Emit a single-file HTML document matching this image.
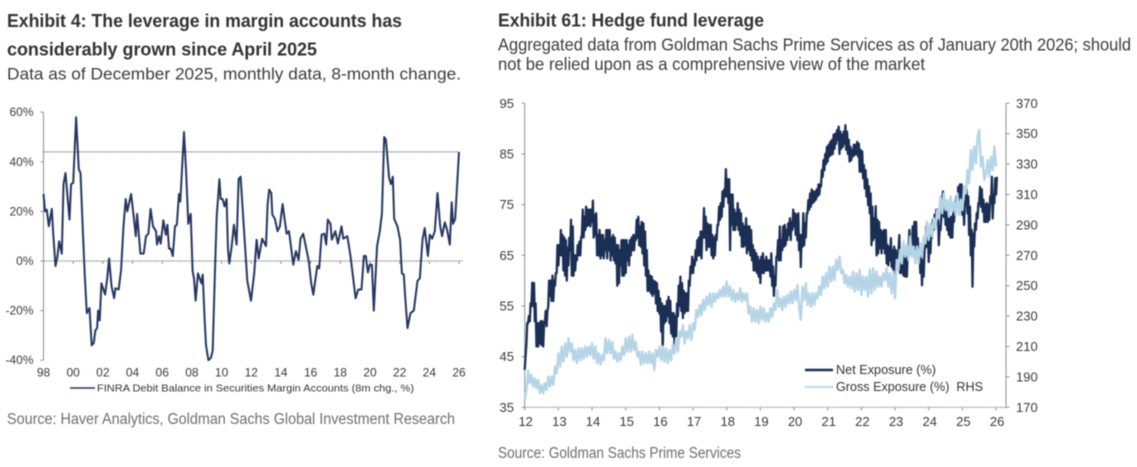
<!DOCTYPE html>
<html lang="en">
<head>
<meta charset="utf-8">
<title>Margin leverage and hedge fund leverage</title>
<style>
html,body{margin:0;padding:0;background:#fff;width:1137px;height:467px;overflow:hidden}
svg{display:block;filter:blur(0.4px)}
text{font-family:"Liberation Sans",Arial,sans-serif}
</style>
</head>
<body>
<svg id="c" xmlns="http://www.w3.org/2000/svg" width="1137" height="467" viewBox="0 0 1137 467">
  <text x="7" y="27" font-size="18" font-weight="700" fill="#333" textLength="395" lengthAdjust="spacingAndGlyphs">Exhibit 4: The leverage in margin accounts has</text>
  <text x="7" y="55.5" font-size="18" font-weight="700" fill="#333" textLength="310" lengthAdjust="spacingAndGlyphs">considerably grown since April 2025</text>
  <text x="7" y="79.5" font-size="17" fill="#3c3c3c" textLength="454" lengthAdjust="spacingAndGlyphs">Data as of December 2025, monthly data, 8-month change.</text>
  <text x="7" y="424" font-size="15.5" fill="#6e6e6e" textLength="448" lengthAdjust="spacingAndGlyphs">Source: Haver Analytics, Goldman Sachs Global Investment Research</text>
  <text x="498" y="26.7" font-size="18" font-weight="700" fill="#333" textLength="266" lengthAdjust="spacingAndGlyphs">Exhibit 61: Hedge fund leverage</text>
  <text x="498" y="50.7" font-size="17.5" fill="#3c3c3c" textLength="633" lengthAdjust="spacingAndGlyphs">Aggregated data from Goldman Sachs Prime Services as of January 20th 2026; should</text>
  <text x="498" y="70" font-size="17.5" fill="#3c3c3c" textLength="427" lengthAdjust="spacingAndGlyphs">not be relied upon as a comprehensive view of the market</text>
  <text x="498" y="458" font-size="15.5" fill="#6e6e6e" textLength="243" lengthAdjust="spacingAndGlyphs">Source: Goldman Sachs Prime Services</text>

  <g id="left-chart"></g>
  <g id="right-chart"></g>

  <line x1="70" y1="388" x2="95" y2="388" stroke="#26375f" stroke-width="1.6"/>
  <text x="97" y="391.7" font-size="10.5" fill="#333" textLength="317" lengthAdjust="spacingAndGlyphs">FINRA Debit Balance in Securities Margin Accounts (8m chg., %)</text>
  <line x1="805" y1="370" x2="833" y2="370" stroke="#1b2f55" stroke-width="2.4"/>
  <text x="836" y="374" font-size="12.5" fill="#333" textLength="100" lengthAdjust="spacingAndGlyphs">Net Exposure (%)</text>
  <line x1="805" y1="387" x2="833" y2="387" stroke="#b5d5e6" stroke-width="2.4" stroke-dasharray="2 0.6"/>
  <text x="836" y="391" font-size="12.5" fill="#333" textLength="147" lengthAdjust="spacingAndGlyphs">Gross Exposure (%)&#160;&#160;RHS</text>
</svg>
<script>
/* ---------- left chart data ---------- */
const marginYears = [
1998.00,1998.11,1998.22,1998.36,1998.56,1998.67,1998.81,1998.94,1999.05,1999.23,1999.35,1999.48,1999.62,1999.75,1999.86,
2000.00,2000.20,2000.38,2000.49,2000.65,2000.78,2000.92,2001.10,2001.25,2001.39,2001.50,2001.61,2001.68,2001.79,2001.90,
2002.15,2002.29,2002.42,2002.58,2002.76,2002.85,2003.07,2003.23,2003.39,2003.54,2003.65,2003.90,2004.06,2004.22,2004.31,2004.53,2004.75,2004.91,
2005.07,2005.22,2005.38,2005.58,2005.65,2005.79,2005.90,2006.08,2006.24,2006.35,2006.46,2006.57,2006.71,2006.86,2006.98,
2007.13,2007.22,2007.47,2007.60,2007.76,2007.92,2008.05,2008.14,2008.25,2008.41,2008.64,2008.73,2008.86,2008.95,
2009.11,2009.29,2009.40,2009.56,2009.67,2009.85,2009.94,2010.07,2010.20,2010.34,2010.43,2010.52,2010.68,2010.83,
2011.01,2011.15,2011.28,2011.51,2011.73,2011.98,2012.20,2012.36,2012.50,2012.74,2012.99,2013.10,2013.21,2013.35,2013.42,2013.59,2013.77,2013.93,
2014.11,2014.38,2014.54,2014.83,2015.01,2015.19,2015.32,2015.50,2015.88,2016.04,2016.18,2016.45,2016.58,2016.74,2016.92,
2017.05,2017.16,2017.34,2017.43,2017.66,2017.84,2018.08,2018.20,2018.47,2018.69,2018.87,2019.03,2019.21,2019.43,2019.59,2019.72,2019.86,2019.99,
2020.13,2020.26,2020.48,2020.66,2020.80,2020.96,2021.07,2021.29,2021.41,2021.54,2021.63,2021.85,2022.03,2022.15,2022.28,2022.39,2022.53,2022.73,2022.95,
2023.20,2023.36,2023.54,2023.69,2023.90,2024.03,2024.19,2024.37,2024.55,2024.73,2024.86,2025.04,2025.20,2025.38,2025.51,2025.60,2025.74,2026.00];
const marginValues = [
27,20,20.7,14,21,10,-2,1.6,8,3,31,35.5,26,16.7,31,
31.5,58,37,35.5,12.6,-6,-21,-19,-34,-33,-28,-27,-20,-24,-9,
-13.5,-7,1,-10,-15,-11,-11.5,-3.5,14,25,20,27,19,10,19,3,3,10,
11,21,14,12,6.6,10,7,16.4,10.6,14.6,5,5,2,14,14.6,
27,24,52,37,15,19,-4,-7,-16,-5,-9,-5.5,-24,-34,
-40,-39,-36,-2,18,33,25,25,22,25,4.6,-1,6,14.6,
6.6,33,34,12.6,-8,-16,-5,8.6,1,9,6,22.7,28.8,27.4,18.7,17,12,14,
23,11,12,-1.5,4,0.5,9,11,0,-9,-13.6,-2,-3,10.6,11,
6.6,16.7,15,8.6,12,7,14,9,10,2,-7,-15,-11.5,-11.5,2,2,-4.6,-1.5,
-1.5,-20,6,12,19,50,49,33.5,31,34,17,14,8.6,-5,-5.5,-15.6,-27,-21,-20,
-8,-7,8.6,13.3,2,10.6,9,12,27.4,14,10,15.6,12.6,6.6,23.7,15,17,44];
const marginRefLevel = 44;
const leftYTicks = [60,40,20,0,-20,-40];
const leftXTicks = [1998,2000,2002,2004,2006,2008,2010,2012,2014,2016,2018,2020,2022,2024,2026];

/* ---------- right chart data (20 samples per year, one row per year) ---------- */
const exposureStartYear = 2012;
const samplesPerYear = 20;
const netHigh = [
45,51.6,53,55.5,59.6,59.5,55.5,51.6,51.6,52,52,51.6,54,54,60,60,61,60,61.5,67,
67,70,69,68.5,68,66.5,68.5,72,70.7,65,65,67,67.7,68.5,74,72.6,74.6,74,74,74,
75.8,73,73.3,69,70,69,69,68,70,70,70,68.5,69,68.5,67,67,66,68,68,68,
68,67,68,68.5,69,69,72,72.6,70.7,71.6,71.3,69.7,66,62,61,60.8,60,59.8,59.5,58,
56.5,55.5,55,55,56,56.8,56,53.6,53.6,53,55.5,59,60.8,59.5,58,57.5,57.5,60,62.8,64.7,
64,66,68,68.5,69.7,69.7,74.3,72.6,71.3,71,71,69,68.5,69,71,74.6,75.3,77.6,78,82,
80,80,77,77,74,73.3,75.3,74,73.3,71.3,70.7,72.3,70.7,70.7,70,67,66,65.4,64.7,64,
64.7,65.4,64,64.7,64,64,65.4,62.8,60.8,64.7,68,70.7,68,70.7,71,70,71.3,72.3,71.6,74,
73.3,73,73.3,69,69,73.3,71.3,73.3,75.9,77.2,78,77.6,77.6,78,79,79,81.8,83.8,85,86.4,
86.8,87.4,87.8,88.8,89,89.7,90.4,89.4,88.8,89.4,90.7,89.4,87.8,86.4,85.8,86.8,86.8,87.4,87,85.8,
85.5,82.8,81.8,80,78.6,77.2,74.6,72.3,74.7,72,71.6,70,69.7,70,70,67,66.7,68.4,66,66.7,
66,65.4,69,64,65.4,65.4,65.4,66,70,68.4,70.7,71.6,71.6,68.4,66.7,65.4,64,66,70.7,70,
68,70,72,73,74,74,70.7,72.6,77.6,75.3,74.3,73.3,72.6,72.6,73.3,74.3,76.6,78.5,79,79,
75.3,75.3,78,76.6,74.6,70,69.3,71.3,73.3,75.3,78.5,78,76,75,75.3,75,76.6,80.5,77,80.2,
80.5];
const netLow = [
42.4,47.6,51.6,52,55,55,52,47,47,47.6,47.3,47,51.6,51,55,57,56,56,59,61.5,
63,65,65,62,61,60,63,66,61,61,62,64,65,65,69,68.5,70,70.7,71,70.7,
71.6,68.5,69,65,65,64.4,65,64.4,66,64.4,66,64,65,64,63.4,59,59.5,63,61,61,
61.5,64,63,65,66,66,68,68.5,67,66.7,65.4,63,61,58,58,57.5,57,57.5,55.5,54,
53.5,50,46.3,51.6,52,53,51.6,49.6,49,47,49,53,55,54,52.6,53.6,54,54,59,61.5,
61.5,63,64,65,65,64.4,68.5,68.5,66,66.7,66.7,65,64.4,65,68,71,72,72.6,74.6,76.6,
76.6,75.3,66,71,70,70,71,70,69,66.7,66.7,67,65.4,66,65,64,62,62,61.5,60.8,
59.5,61.5,61.5,62,62,62,60.8,59,57,59,64.7,64,64,66,66.7,67,68,69,68,70,
70.7,69,68,66,62.7,66.7,67,68.5,73.3,74,74.6,75.3,75.6,76,76.6,77,78.6,80.5,81.8,83,
83.5,84.5,84.8,85,86,87,87.8,85,86,86.4,87,85.8,85,83.5,83.8,84.5,84.8,85,84.5,81.5,
81.5,80.2,78.2,76.6,74.9,73.3,67,68,68.5,65,65.4,66.4,65.4,66.4,65.4,63.4,63,64,62.7,61.8,
61.5,63.4,65.4,61.5,61.5,61,60.8,60.8,65.4,65.4,66.7,66.7,66,64.7,64,61.5,59.1,60.8,66.7,66.7,
63.7,65.4,68.5,70,70.7,71.3,67,70,75.3,72.6,71,70,69,68.5,68.5,71.6,74.3,75,75.3,76.6,
73,71,76,73.3,69,65,58.8,66.7,70,72.3,75.3,74.6,73.6,71.6,71.6,71.6,72,75.3,72.3,75.3,
77];
const grossValues = [
175,181.4,194,185.8,191.3,183.6,189,182.5,188,179.2,184.7,179.2,185.8,181.4,190.2,183.6,190.2,184.7,196.8,192.4,
205.5,196.8,209.9,200,212,203.3,215.4,206.6,212,201,207.7,199,208.8,201,208.8,202,210,203.3,210,204.4,
212,202,210,199,205.5,198,204.4,201,215.4,205.5,214.3,205.5,213,202,206.6,200,205.5,201,210,204.4,
215.4,206.6,216.5,206.6,217.6,207.7,213,203.3,206.6,198,206.6,199,205.5,199,206.6,199,205.5,194.6,207.7,203.3,
210,201,210,200,208.8,199,207.7,201,211,205.5,215.4,206.6,219.8,216.5,224,212,219.8,215.4,224,214.3,
225.3,220.9,234,229.6,237.3,230.7,240.6,234,242.8,237.3,245,236.2,245,239.5,245,241.7,247.2,242.8,249.4,242.8,
252.7,242.8,249.4,240.6,247.2,239.5,245,240.6,248.3,239.5,245,240.6,245,231.8,236.2,226.4,235.1,226.4,234,225.3,
236.2,227.5,235.1,226.4,231.8,226.4,235.1,229.6,238.4,234,247.2,236.2,241.7,234,242.8,236.2,243.9,238.4,246.1,238.4,
247.2,240.6,250.5,236.2,227.5,249.4,240.6,251.6,237.3,245,236.2,245,237.3,245,241.7,249.4,243.9,256,248.3,258.2,
249.4,262.5,252.7,262.5,253.8,266.9,260.4,269.1,258.2,260.4,251.6,257.1,249.4,256,248.3,259.3,246.1,258.2,247.2,260.4,
243.9,256,247.2,256,242.8,260.4,245,261.4,247.2,259.3,249.4,256,249.4,258.2,253.8,261.4,249.4,258.2,245,259.3,
241.7,266.9,260.4,273.5,264.7,279,269.1,276.8,266.9,282.3,269.1,275.7,264.7,275.7,264.7,277.9,269.1,282.3,277.9,292.1,
280.1,291,282.3,294.3,287.8,299.8,294.3,308.6,297.6,310.8,299.8,306.4,295.4,308.6,298.7,305.3,296.5,310.8,296.5,306.4,
299.8,315.2,310.8,326.1,317.4,339.3,326.1,341.5,330.5,348,352.5,328.3,334.9,319.6,323.9,332.7,321.8,334.9,326.1,341.5,
328.3];
const lhsTicks = [95,85,75,65,55,45,35];
const rhsTicks = [370,350,330,310,290,270,250,230,210,190,170];
const rightXTicks = [2012,2013,2014,2015,2016,2017,2018,2019,2020,2021,2022,2023,2024,2025,2026];

/* ---------- axis functions ---------- */
const NS = 'http://www.w3.org/2000/svg';
const xLeft  = y => 43.5 + (y - 1998) * 14.84;
const yLeft  = v => 261 - v * 2.48;
const xRight = y => 524.7 + (y - 2012) * 33.67;
const yLhs   = v => 103.3 + (95 - v) * 5.067;
const yRhs   = v => 103.3 + (370 - v) * 1.52;
const twoDigit = y => String(y % 100).padStart(2, '0');

const leftG = document.getElementById('left-chart');
const rightG = document.getElementById('right-chart');

function shape(parent, tag, props) {
  const el = document.createElementNS(NS, tag);
  for (const k in props) el.setAttribute(k, props[k]);
  parent.appendChild(el);
  return el;
}
function label(parent, x, y, txt, size, anchor) {
  const el = shape(parent, 'text', {x: x, y: y, 'font-size': size, 'text-anchor': anchor, fill: '#3a3a3a'});
  el.textContent = txt;
  return el;
}
const axisStyle = {stroke: '#8f8f8f', 'stroke-width': 1};

/* ---------- left chart ---------- */
let el = shape(leftG, 'line', Object.assign({x1: xLeft(1998), x2: xLeft(1998), y1: yLeft(60), y2: yLeft(-40)}, axisStyle));


el = shape(leftG, 'line', {x1: xLeft(1998), x2: 463, y1: yLeft(0), y2: yLeft(0), stroke: '#8a8a8a', 'stroke-width': 1.2, 'stroke-dasharray': '1.5 1'});


el = shape(leftG, 'line', {x1: xLeft(1998), x2: xLeft(2026), y1: yLeft(marginRefLevel), y2: yLeft(marginRefLevel), stroke: '#56678c', 'stroke-width': 1, 'stroke-dasharray': '1.5 1'});



leftYTicks.forEach(v => {
  const t = shape(leftG, 'line', Object.assign({x1: xLeft(1998) - 3, x2: xLeft(1998), y1: yLeft(v), y2: yLeft(v)}, axisStyle));
  
  
  const l = label(leftG, 33.5, yLeft(v) + 4, v + '%', 12, 'end');
  
  
});
leftXTicks.forEach(y => {
  const t = shape(leftG, 'line', Object.assign({x1: xLeft(y), x2: xLeft(y), y1: yLeft(0), y2: yLeft(0) + 3}, axisStyle));
  
  
  const l = label(leftG, xLeft(y), 376.5, twoDigit(y), 12, 'middle');
  
  
});
const marginPath = marginYears.map((y, i) => xLeft(y).toFixed(1) + ',' + yLeft(marginValues[i]).toFixed(1)).join(' ');
el = shape(leftG, 'polyline', {points: marginPath, fill: 'none', stroke: '#26375f', 'stroke-width': 2, 'stroke-linejoin': 'round'});



/* ---------- right chart ---------- */
el = shape(rightG, 'line', Object.assign({x1: xRight(2012), x2: xRight(2012), y1: yLhs(95), y2: yLhs(35)}, axisStyle));


el = shape(rightG, 'line', Object.assign({x1: 1006, x2: 1006, y1: yRhs(370), y2: yRhs(170)}, axisStyle));


el = shape(rightG, 'line', {x1: xRight(2012), x2: 1006, y1: yLhs(35), y2: yLhs(35), stroke: '#8a8a8a', 'stroke-width': 1.2, 'stroke-dasharray': '1.5 1'});



lhsTicks.forEach(v => {
  const t = shape(rightG, 'line', Object.assign({x1: xRight(2012) - 3, x2: xRight(2012), y1: yLhs(v), y2: yLhs(v)}, axisStyle));
  
  
  const l = label(rightG, 514, yLhs(v) + 4.5, String(v), 13, 'end');
  
  
});
rhsTicks.forEach(v => {
  const t = shape(rightG, 'line', Object.assign({x1: 1006, x2: 1009.5, y1: yRhs(v), y2: yRhs(v)}, axisStyle));
  
  
  const l = label(rightG, 1016, yRhs(v) + 4.5, String(v), 13, 'start');
  
  
});
rightXTicks.forEach(y => {
  const t = shape(rightG, 'line', Object.assign({x1: xRight(y), x2: xRight(y), y1: yLhs(35), y2: yLhs(35) + 3}, axisStyle));
  
  
  const l = label(rightG, xRight(y) + 1, 426, twoDigit(y), 13, 'middle');
  
  
});

const step = 1 / samplesPerYear;
const netPts = [];
netHigh.forEach((h, i) => {
  const year = exposureStartYear + i * step;
  netPts.push(xRight(year).toFixed(1) + ',' + yLhs(netLow[i]).toFixed(1));
  netPts.push(xRight(year + step / 2).toFixed(1) + ',' + yLhs(h).toFixed(1));
});
el = shape(rightG, 'polyline', {points: netPts.join(' '), fill: 'none', stroke: '#1b2f55', 'stroke-width': 2.3, 'stroke-linejoin': 'round'});



const grossPts = grossValues.map((v, i) => xRight(exposureStartYear + i * step).toFixed(1) + ',' + yRhs(v).toFixed(1));
el = shape(rightG, 'polyline', {points: grossPts.join(' '), fill: 'none', stroke: '#b5d5e6', 'stroke-width': 2.4, 'stroke-linejoin': 'round'});


</script>
</body>
</html>
